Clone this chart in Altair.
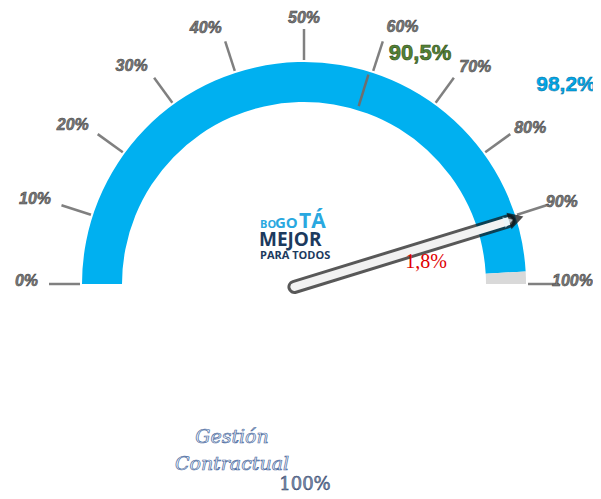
import math
import altair as alt
import pandas as pd

# ---------------- data ----------------
tick_values = [0, 10, 20, 30, 40, 50, 60, 70, 80, 90, 100]
tick_labels = ["0%", "10%", "20%", "30%", "40%", "50%", "60%", "70%", "80%", "90%", "100%"]
arc_parts = ["Ejecutado", "Pendiente"]
arc_start = [0, 98.2]
arc_end = [98.2, 100]
needle_value = [90.5]
marker_value = [59.5]
value_texts = ["90,5%", "98,2%", "1,8%"]
logo_texts = ["BO", "GO", "TÁ", "MEJOR", "PARA TODOS"]
footer_texts = ["Gestión", "Contractual", "100%"]

# ---------------- layout ----------------
W, H = 585, 483
CX, CY = 296, 276
R_OUT, R_IN = 222, 182

theta_scale = alt.Scale(domain=[0, 100], range=[-math.pi / 2, math.pi / 2])

arc_df = pd.DataFrame({"part": arc_parts, "start": arc_start, "end": arc_end})
tick_df = pd.DataFrame({"v": tick_values, "label": tick_labels})


def polar(chart, name, r):
    return chart.transform_calculate(
        **{f"{name}x": f"{CX} + ({r}) * cos(PI * (1 - datum.v / 100))"}
    ).transform_calculate(
        **{f"{name}y": f"{CY} - ({r}) * sin(PI * (1 - datum.v / 100))"}
    )


arcs = alt.Chart(arc_df).mark_arc(stroke=None).encode(
    theta=alt.Theta("start:Q", scale=theta_scale, stack=None),
    theta2="end:Q",
    radius=alt.value(R_OUT),
    radius2=alt.value(R_IN),
    x=alt.value(CX),
    y=alt.value(CY),
    color=alt.Color("part:N", scale=alt.Scale(domain=arc_parts, range=["#00b0f0", "#d9d9d9"]), legend=None),
)

tick_base = polar(polar(alt.Chart(tick_df), "a", 224), "b", 255)
tick_rules = tick_base.mark_rule(color="#808080", strokeWidth=2.5).encode(
    x=alt.X("ax:Q", scale=None), y=alt.Y("ay:Q", scale=None), x2="bx:Q", y2="by:Q"
)

label_style = dict(font="Liberation Sans", fontSize=16, fontStyle="italic", fontWeight="bold",
                   fill="#7a7a7a", stroke="#3f3f3f", strokeWidth=0.5, baseline="middle")


def tick_text(cond, r, align, dy):
    return polar(alt.Chart(tick_df).transform_filter(cond), "l", r).mark_text(
        align=align, dy=dy, **label_style
    ).encode(x=alt.X("lx:Q", scale=None), y=alt.Y("ly:Q", scale=None), text="label:N")


text_left = tick_text("datum.v < 50", "266", "right", -3)
text_mid = tick_text("datum.v == 50", "266", "center", 0)
text_right = tick_text("datum.v > 50", "248 + 20 * sin(PI * (1 - datum.v / 100))", "left", -3)

marker_df = pd.DataFrame({"v": marker_value})
marker = polar(polar(alt.Chart(marker_df), "a", 186), "b", 219).mark_rule(
    color="#6e6e6e", strokeWidth=2.5
).encode(x=alt.X("ax:Q", scale=None), y=alt.Y("ay:Q", scale=None), x2="bx:Q", y2="by:Q")

needle_df = pd.DataFrame({"v": needle_value})
needle_base = polar(polar(polar(alt.Chart(needle_df), "a", -10), "b", 214), "t", 222).transform_calculate(
    rot="360 - 180 * (1 - datum.v / 100)"
)
needle_dark = needle_base.mark_rule(color="#111111", strokeWidth=14, opacity=0.7, strokeCap="round").encode(
    x=alt.X("ax:Q", scale=None), y=alt.Y("ay:Q", scale=None), x2="bx:Q", y2="by:Q"
)
needle_light = needle_base.mark_rule(color="#f2f2f2", strokeWidth=8, strokeCap="round").encode(
    x=alt.X("ax:Q", scale=None), y=alt.Y("ay:Q", scale=None), x2="bx:Q", y2="by:Q"
)
needle_head = needle_base.mark_point(shape="triangle-right", filled=True, size=300, color="#111111", opacity=0.75).encode(
    x=alt.X("tx:Q", scale=None), y=alt.Y("ty:Q", scale=None), angle=alt.Angle("rot:Q", scale=None)
)
needle_head2 = needle_base.mark_point(shape="triangle-right", filled=True, size=120, color="#e6f6fc").encode(
    x=alt.X("bx:Q", scale=None), y=alt.Y("by:Q", scale=None), angle=alt.Angle("rot:Q", scale=None)
)


def label(txt, x, y, **kw):
    return alt.Chart(pd.DataFrame({"t": [txt]})).mark_text(**kw).encode(
        text="t:N", x=alt.value(x), y=alt.value(y)
    )


v1 = label(value_texts[0], 412, 45, font="Liberation Sans", fontSize=22, fontWeight="bold",
           fill="#548235", stroke="#2e4d1a", strokeWidth=0.6, align="center", baseline="middle")
v2 = label(value_texts[1], 558, 77, font="Liberation Sans", fontSize=21, fontWeight="bold",
           fill="#00a9ea", stroke="#0a6fa0", strokeWidth=0.5, align="center", baseline="middle")
v3 = label(value_texts[2], 418, 254, font="Liberation Serif", fontSize=20,
           fill="#e00000", align="center", baseline="middle")

logo_blue = "#29a8e0"
logo_navy = "#1c3a5e"
l1 = label(logo_texts[0], 252, 220, font="Open Sans", fontSize=11, fontWeight="bold", fill=logo_blue, align="left", baseline="alphabetic")
l2 = label(logo_texts[1], 267, 220, font="Open Sans", fontSize=15, fontWeight="bold", fill=logo_blue, align="left", baseline="alphabetic")
l3 = label(logo_texts[2], 291, 220, font="Open Sans", fontSize=21, fontWeight="bold", fill=logo_blue, align="left", baseline="alphabetic")
l4 = label(logo_texts[3], 251, 238, font="Open Sans", fontSize=19, fontWeight="bold", fill=logo_navy, align="left", baseline="alphabetic")
l5 = label(logo_texts[4], 252, 251, font="Open Sans", fontSize=11, fontWeight="bold", fill=logo_navy, align="left", baseline="alphabetic")

f1 = label(footer_texts[0], 224, 429, font="DejaVu Serif", fontSize=19, fontStyle="italic",
           fill="#eef2f8", stroke="#4a6aa0", strokeWidth=0.7, align="center", baseline="middle")
f2 = label(footer_texts[1], 224, 456, font="DejaVu Serif", fontSize=19, fontStyle="italic",
           fill="#eef2f8", stroke="#4a6aa0", strokeWidth=0.7, align="center", baseline="middle")
f3 = label(footer_texts[2], 297, 477, font="DejaVu Serif", fontSize=18,
           fill="#8090b0", stroke="#2d3f66", strokeWidth=0.5, align="center", baseline="middle")

chart = alt.layer(
    arcs, marker, tick_rules, text_left, text_mid, text_right, v1, v2,
    l1, l2, l3, l4, l5,
    needle_dark, needle_light, needle_head, needle_head2, v3,
    f1, f2, f3,
).properties(width=W, height=H, padding=0, autosize=alt.AutoSizeParams(type="none")).configure_view(stroke=None)

chart.save("out.html", embed_options={"renderer": "svg", "actions": False})
